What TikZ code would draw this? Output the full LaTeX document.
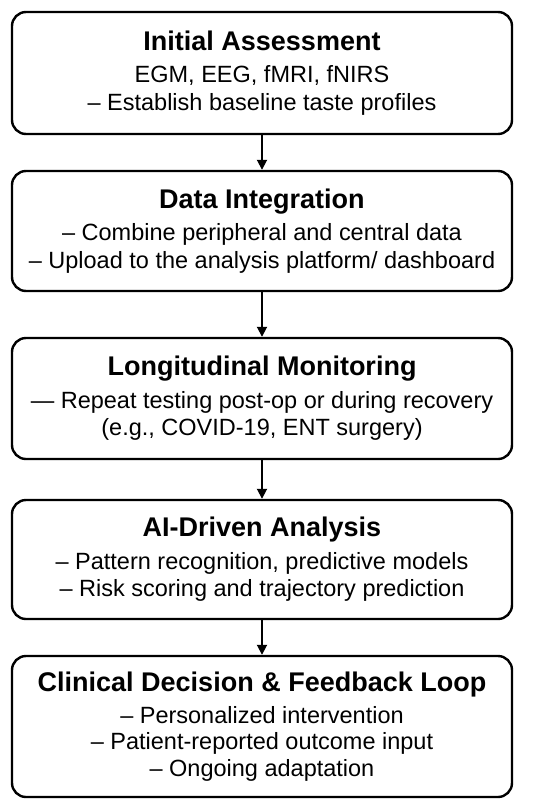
\documentclass[tikz,border=0pt]{standalone}
\usepackage{fontspec}
\setmainfont{Liberation Sans}
\usetikzlibrary{positioning, arrows.meta}
\definecolor{Ink}{HTML}{000000}
\definecolor{Paper}{HTML}{FFFFFF}
\tikzset{
    stagebox/.style={rectangle, rounded corners=14pt, draw=Ink, fill=Paper, line width=2.4pt, minimum width=500pt, inner sep=0pt, align=center, text=Ink, font=\fontsize{23.5}{27.5}\selectfont},
    flowarrow/.style={-{Triangle[width=10pt, length=10pt]}, line width=1.8pt, color=Ink},
}
\newcommand{\stagehead}[1]{{\fontsize{27}{27}\selectfont\bfseries #1}}

\begin{document}
\begin{tikzpicture}[x=1pt, y=-1pt]
    \useasboundingbox (0,0) rectangle (537,809);

    % Fasi del percorso
    \node[stagebox, minimum height=122pt] (assess) at (262,73)
        {\stagehead{Initial Assessment}\\[5pt] EGM, EEG, fMRI, fNIRS\\ – Establish baseline taste profiles};
    \node[stagebox, minimum height=120pt] (integr) at (262,231)
        {\stagehead{Data Integration}\\[5pt] – Combine peripheral and central data\\ – Upload to the analysis platform/ dashboard};
    \node[stagebox, minimum height=121pt] (monitor) at (262,398.5)
        {\stagehead{Longitudinal Monitoring}\\[5pt] — Repeat testing post-op or during recovery\\ (e.g., COVID-19, ENT surgery)};
    \node[stagebox, minimum height=119pt] (analysis) at (262,559.5)
        {\stagehead{AI-Driven Analysis}\\[5pt] – Pattern recognition, predictive models\\ – Risk scoring and trajectory prediction};
    \node[stagebox, minimum height=141pt] (decision) at (262,726.5)
        {\stagehead{Clinical Decision \& Feedback Loop}\\[4pt] – Personalized intervention\\[-1pt] – Patient-reported outcome input\\[-1pt] – Ongoing adaptation};

    % Frecce tra le fasi
    \draw[flowarrow] (assess) -- (integr);
    \draw[flowarrow] (integr) -- (monitor);
    \draw[flowarrow] (monitor) -- (analysis);
    \draw[flowarrow] (analysis) -- (decision);
\end{tikzpicture}
\end{document}
